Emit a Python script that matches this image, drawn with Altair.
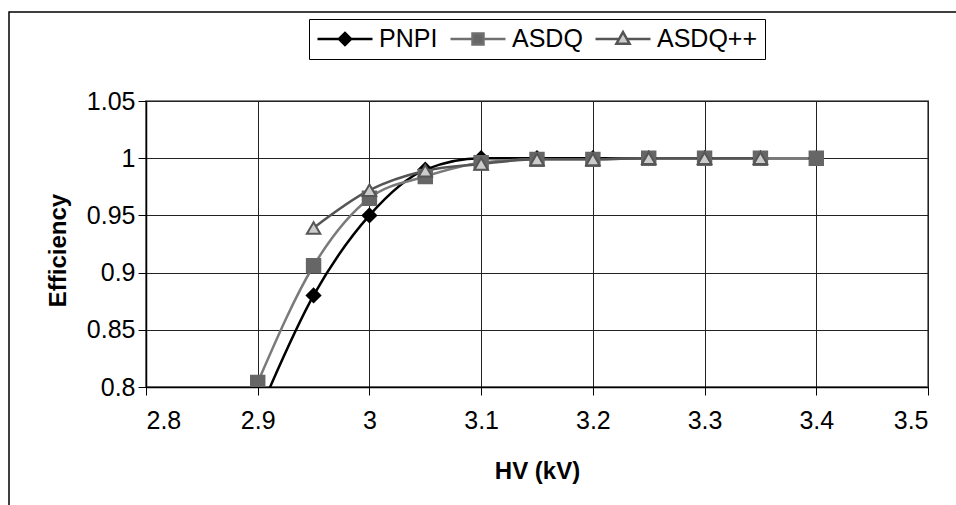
import altair as alt
import pandas as pd

# ---- data ----
hv = [2.9, 2.95, 3.0, 3.05, 3.1, 3.15, 3.2, 3.25, 3.3, 3.35, 3.4]
pnpi = [0.775, 0.88, 0.95, 0.99, 1.0, 1.0, 1.0, 1.0, 1.0, 1.0, 1.0]
asdq = [0.804, 0.906, 0.965, 0.984, 0.996, 0.999, 0.999, 1.0, 1.0, 1.0, 1.0]
asdq_pp = [None, 0.939, 0.972, 0.989, 0.995, 0.999, 0.999, 1.0, 1.0, 1.0, None]
series = ["PNPI", "ASDQ", "ASDQ++"]
x_ticks = [2.8, 2.9, 3.0, 3.1, 3.2, 3.3, 3.4, 3.5]
y_ticks = [0.8, 0.85, 0.9, 0.95, 1.0, 1.05]

rows = []
for name, vals in zip(series, [pnpi, asdq, asdq_pp]):
    for h, v in zip(hv, vals):
        if v is not None:
            rows.append({"hv": h, "eff": v, "series": name})
df = pd.DataFrame(rows)

line_colors = ["#000000", "#7a7a7a", "#555555"]
marker_fill = ["#000000", "#666666", "#cccccc"]
marker_stroke = ["#000000", "#666666", "#555555"]
marker_shapes = ["diamond", "square", "triangle-up"]

# legend symbols: a line with the marker in its middle
legend_paths = [
    "M-1,0L-0.2,0M0.2,0L1,0M-0.22,0L0,-0.22L0.22,0L0,0.22Z",
    "M-1,0L-0.2,0M0.2,0L1,0M-0.2,-0.2L0.2,-0.2L0.2,0.2L-0.2,0.2Z",
    "M-1,0L-0.14,0M0.14,0L1,0M0,-0.25L0.24,0.17L-0.24,0.17Z",
]
legend_stroke = ["#000000", "#707070", "#555555"]

X = alt.X("hv:Q", scale=alt.Scale(domain=[2.8, 3.5], nice=False, zero=False),
          axis=alt.Axis(values=x_ticks, format="~g", title="HV (kV)", titlePadding=26,
                        labelPadding=13))
Y = alt.Y("eff:Q", scale=alt.Scale(domain=[0.8, 1.05], nice=False, zero=False),
          axis=alt.Axis(values=y_ticks, format="~g", title="Efficiency", titlePadding=16,
                        labelPadding=3, titleY=149))

base = alt.Chart(df)

lines = base.mark_line(interpolate="monotone", strokeWidth=2.5, clip=True).encode(
    x=X, y=Y,
    stroke=alt.Stroke("series:N", scale=alt.Scale(domain=series, range=line_colors), legend=None),
    detail="series:N",
)

points = base.mark_point(filled=True, size=180, strokeWidth=2, opacity=1, clip=True).encode(
    x=X, y=Y,
    shape=alt.Shape("series:N", scale=alt.Scale(domain=series, range=marker_shapes), legend=None),
    fill=alt.Fill("series:N", scale=alt.Scale(domain=series, range=marker_fill), legend=None),
    stroke=alt.Stroke("series:N", scale=alt.Scale(domain=series, range=marker_stroke), legend=None),
)

legend_df = pd.DataFrame({"name": series, "hv": [2.0] * 3, "eff": [0.5] * 3})
legend_layer = alt.Chart(legend_df).mark_point(filled=True, opacity=1, strokeWidth=2.5, clip=True).encode(
    x=X, y=Y,
    shape=alt.Shape("name:N", scale=alt.Scale(domain=series, range=legend_paths), title=None,
                    sort=series),
    fill=alt.Fill("name:N", scale=alt.Scale(domain=series, range=marker_fill), title=None,
                  sort=series),
    stroke=alt.Stroke("name:N", scale=alt.Scale(domain=series, range=legend_stroke), title=None,
                      sort=series),
)

frame = alt.Chart(pd.DataFrame({"a": [0]})).mark_rect(
    fillOpacity=0, stroke="#000000", strokeWidth=1.5, clip=False
).encode(
    x=alt.value(-137), x2=alt.value(840), y=alt.value(-89), y2=alt.value(430)
)

chart = alt.layer(frame, lines, points, legend_layer).resolve_scale(
    shape="independent", fill="independent", stroke="independent"
).properties(
    width=782, height=286,
    autosize=alt.AutoSizeParams(type="none"),
    padding={"left": 146, "top": 101, "right": 28, "bottom": 118},
    background="white",
).configure_view(
    stroke="#808080", strokeWidth=2
).configure_axis(
    labelFont="Liberation Sans", labelFontSize=25, labelColor="#000000",
    titleFont="Liberation Sans", titleFontSize=24, titleFontWeight="bold", titleColor="#000000",
    domainColor="#000000", domainWidth=1.5, tickColor="#000000", tickSize=8, tickWidth=1,
    gridColor="#222222", gridWidth=1, grid=True,
).configure_legend(
    orient="none", legendX=163, legendY=-82, direction="horizontal",
    strokeColor="#000000", strokeWidth=1, padding=7, fillColor="white",
    symbolSize=3025, clipHeight=26, labelFont="Liberation Sans", labelFontSize=25,
    labelColor="#000000", labelOffset=5, columnPadding=11, symbolStrokeWidth=2.5,
)

chart.save("out.html", embed_options={"renderer": "svg", "actions": False})
